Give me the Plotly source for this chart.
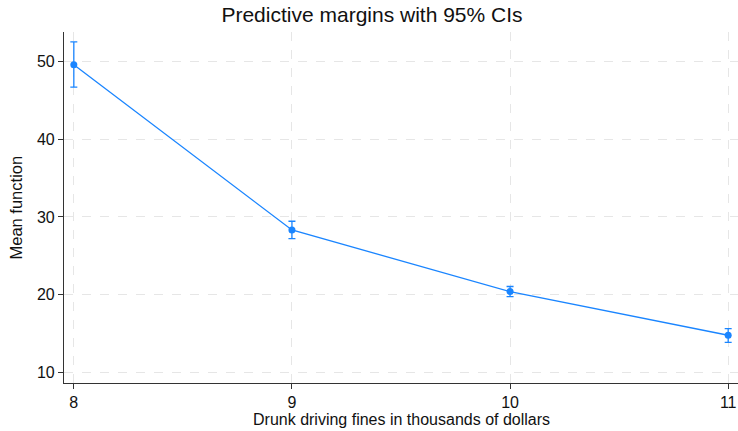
import plotly.graph_objects as go

fines = [8, 9, 10, 11]
margin = [49.55, 28.33, 20.42, 14.81]
ci_low = [46.68, 27.21, 19.78, 13.90]
ci_high = [52.47, 29.45, 21.07, 15.66]
yticks = [10, 20, 30, 40, 50]

blue = "#1a85ff"
W, H = 738, 431
L, R, T, B = 64, 0, 32, 48
pw, ph = W - L - R, H - T - B

fig = go.Figure()
fig.add_trace(go.Scatter(
    x=fines, y=margin, mode="lines+markers",
    line=dict(color=blue, width=1.3),
    marker=dict(color=blue, size=7),
    error_y=dict(type="data", symmetric=False,
                 array=[h - m for h, m in zip(ci_high, margin)],
                 arrayminus=[m - l for m, l in zip(margin, ci_low)],
                 color=blue, thickness=1.3, width=3.5),
    showlegend=False, cliponaxis=False,
))

font = "Arial, Liberation Sans, sans-serif"
axis_common = dict(ticks="outside", ticklen=5, tickcolor="#333333",
                   showline=True, linecolor="#333333", linewidth=1.2,
                   showgrid=True, gridcolor="#e6e6e6", griddash="dash", gridwidth=1,
                   zeroline=False, tickfont=dict(size=16), automargin=False)
fig.update_layout(
    width=W, height=H,
    margin=dict(l=L, r=R, t=T, b=B, autoexpand=False),
    paper_bgcolor="white", plot_bgcolor="white",
    font=dict(family=font, color="#111111", size=16),
    title=dict(text="Predictive margins with 95% CIs", x=372 / W, xanchor="center",
               xref="container", y=1 - 15 / H, yref="container", yanchor="middle",
               font=dict(size=21, color="#111111")),
    xaxis=dict(range=[7.955, 11.045], tickvals=fines, ticktext=[str(v) for v in fines],
               **axis_common),
    yaxis=dict(range=[8.68, 53.75], tickvals=yticks, **axis_common),
    annotations=[
        dict(text="Drunk driving fines in thousands of dollars", xref="paper", yref="paper",
             x=0.5, y=-(419 - (T + ph)) / ph, xanchor="center", yanchor="middle",
             showarrow=False, font=dict(size=16)),
        dict(text="Mean function", xref="paper", yref="paper", textangle=-90,
             x=(15 - L) / pw, y=0.5, xanchor="center", yanchor="middle",
             showarrow=False, font=dict(size=16.5)),
    ],
)
fig.write_html("out.html", config={"displayModeBar": False},
               post_script="document.body.style.margin='0px';")
